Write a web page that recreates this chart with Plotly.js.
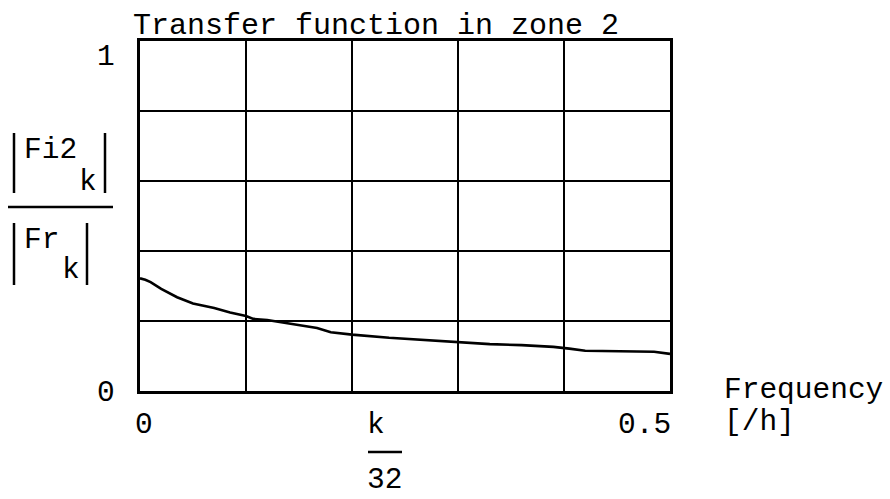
<!DOCTYPE html>
<html><head><meta charset="utf-8">
<script src="https://cdn.plot.ly/plotly-3.0.1.min.js"></script>
<style>html,body{margin:0;padding:0;background:#fff}</style>
</head><body><div id="chart" style="width:890px;height:499px"></div>
<script>
// Frequency k/32 [/h]
const freq  = [0, 0.005, 0.01, 0.02, 0.035, 0.05, 0.07, 0.085, 0.1, 0.107, 0.12, 0.135, 0.15, 0.167, 0.18, 0.2, 0.235, 0.27, 0.3, 0.33, 0.36, 0.39, 0.405, 0.42, 0.485, 0.5];
// |Fi2_k| / |Fr_k|
const ratio = [0.322, 0.318, 0.311, 0.292, 0.268, 0.250, 0.237, 0.224, 0.214, 0.206, 0.203, 0.195, 0.187, 0.180, 0.168, 0.161, 0.152, 0.145, 0.138, 0.134, 0.131, 0.126, 0.121, 0.115, 0.112, 0.106];
const xTickVals = [0, 0.5];
const xTickLabels = ['0', '0.5'];
const yTickVals = [0, 1];
const yTickLabels = ['0', '1'];
const titleText = 'Transfer function in zone 2';

const W = 890, H = 499, L = 140, R = 670, T = 41, B = 391;
const px = x => (x - L) / (R - L);
const py = y => (B - y) / (B - T);
const FONT = {family: 'Liberation Mono, Courier New, monospace', size: 29.5, color: '#000'};

function ann(text, x, y, xanchor) {
  return {text: text, xref: 'paper', yref: 'paper', x: px(x), y: py(y),
          xanchor: xanchor || 'left', yanchor: 'middle', showarrow: false,
          font: FONT, borderpad: 0};
}
function seg(x0, y0, x1, y1, w) {
  return {type: 'line', xref: 'paper', yref: 'paper', x0: px(x0), y0: py(y0),
          x1: px(x1), y1: py(y1), line: {color: '#000', width: w || 2}};
}

const annotations = [
  // y tick labels (Mathcad style placement)
  {text: yTickLabels[1], xref: 'paper', yref: 'y', x: px(116), y: yTickVals[1], yshift: -16,
   xanchor: 'right', yanchor: 'middle', showarrow: false, font: FONT, borderpad: 0},
  {text: yTickLabels[0], xref: 'paper', yref: 'y', x: px(116), y: yTickVals[0], yshift: -2,
   xanchor: 'right', yanchor: 'middle', showarrow: false, font: FONT, borderpad: 0},
  // x tick labels
  {text: xTickLabels[0], xref: 'x', yref: 'paper', x: xTickVals[0], y: py(425), xshift: -6,
   xanchor: 'left', yanchor: 'middle', showarrow: false, font: FONT, borderpad: 0},
  {text: xTickLabels[1], xref: 'x', yref: 'paper', x: xTickVals[1], y: py(425), xshift: 2,
   xanchor: 'right', yanchor: 'middle', showarrow: false, font: FONT, borderpad: 0},
  // x axis label k/32
  ann('k', 366, 425),
  ann('32', 366, 480),
  // frequency label
  ann('Frequency', 723, 390),
  ann('[/h]', 723, 422),
  // y axis label fraction
  ann('Fi2', 23, 150),
  ann('k', 78, 182),
  ann('Fr', 23, 240),
  ann('k', 61, 270)
];

const shapes = [
  seg(368, 452, 402, 452, 2.5),
  seg(14, 133, 14, 193, 2.5), seg(105, 133, 105, 193, 2.5),
  seg(8, 207, 113, 207, 2.5),
  seg(14, 223, 14, 285, 2.5), seg(87, 223, 87, 285, 2.5)
];

const data = [{
  x: freq, y: ratio, type: 'scatter', mode: 'lines',
  line: {color: '#000', width: 2.6}, hoverinfo: 'skip'
}];

const layout = {
  width: W, height: H,
  margin: {l: L, r: W - R, t: T, b: H - B, pad: 0},
  paper_bgcolor: '#fff', plot_bgcolor: '#fff',
  showlegend: false,
  font: FONT,
  title: {text: titleText, font: Object.assign({}, FONT, {size: 30}), xref: 'container', yref: 'container',
          x: 133 / W, xanchor: 'left', y: 1 - 23 / H, yanchor: 'middle'},
  xaxis: {range: [0, 0.5], dtick: 0.1, tick0: 0, showgrid: true, gridcolor: '#000', gridwidth: 2,
          zeroline: false, showline: true, mirror: true, linecolor: '#000', linewidth: 3,
          showticklabels: false, ticks: '', fixedrange: true},
  yaxis: {range: [0, 1], dtick: 0.2, tick0: 0, showgrid: true, gridcolor: '#000', gridwidth: 2,
          zeroline: false, showline: true, mirror: true, linecolor: '#000', linewidth: 3,
          showticklabels: false, ticks: '', fixedrange: true},
  annotations: annotations,
  shapes: shapes
};

Plotly.newPlot('chart', data, layout, {displayModeBar: false, staticPlot: true});
</script>
</body></html>
